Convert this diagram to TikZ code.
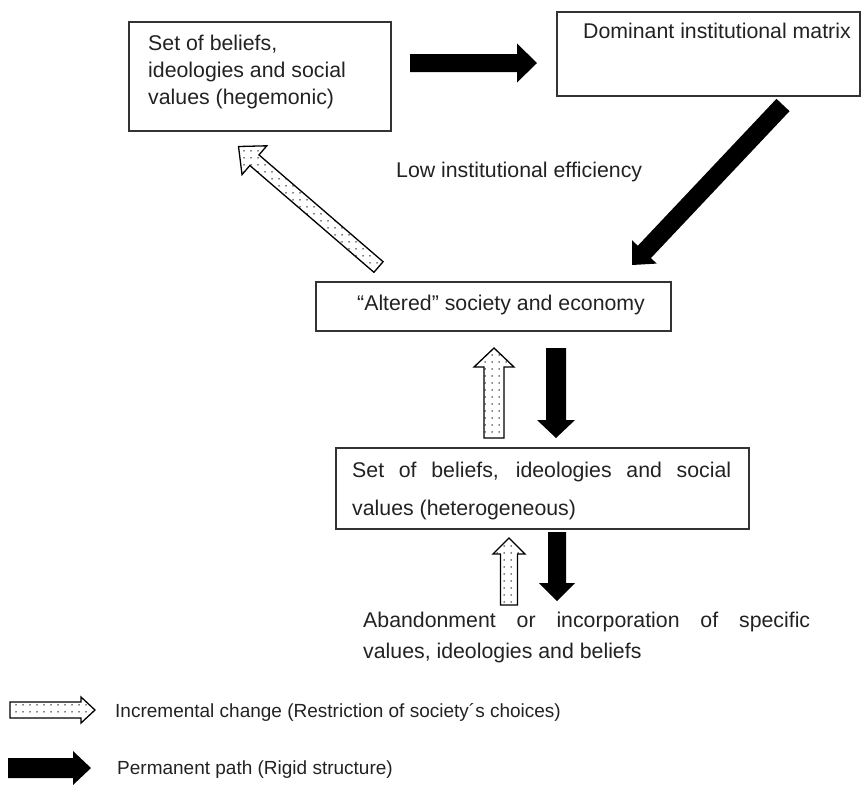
\documentclass[tikz,border=0pt]{standalone}
\usepackage{fontspec}
\setmainfont{Liberation Sans}
\usetikzlibrary{calc,patterns.meta}
\definecolor{ink}{HTML}{222222}
\definecolor{edge}{HTML}{333333}
\tikzdeclarepattern{
  name=sdots,
  type=uncolored,
  bounding box={(0pt,0pt) and (6.5pt,6.5pt)},
  tile size={(6.5pt,6.5pt)},
  code={\fill (3.25pt,3.25pt) circle (0.8pt);}
}
\newcommand\blockarrow[6]{%
  \coordinate (#2-b) at ($(#3)!#6!(#2)$);
  \path[#1] ($(#2)!#4!90:(#3)$) -- ($(#2-b)!#4!90:(#3)$) -- ($(#2-b)!#5!90:(#3)$) -- (#3)
    -- ($(#2-b)!#5!-90:(#3)$) -- ($(#2-b)!#4!-90:(#3)$) -- ($(#2)!#4!-90:(#3)$) -- cycle;
}
\tikzset{
  box/.style={draw=edge, line width=1.3pt, inner sep=0pt},
  txt/.style={text=ink, inner sep=0pt, font={\fontsize{21.3pt}{27pt}\selectfont}},
  legtxt/.style={text=ink, inner sep=0pt, font={\fontsize{19pt}{24pt}\selectfont}},
  solidarrow/.style={fill=black},
  dotarrow/.style={preaction={fill=white}, pattern=sdots, pattern color=black, draw=black, line width=1.3pt, line join=miter}
}
\begin{document}
\begin{tikzpicture}[x=1pt,y=-1pt]
\useasboundingbox (0,0) rectangle (861,793);
% boxes
\node[box, minimum width=262pt, minimum height=109pt] (hege) at (260,76.5) {};
\node[txt, anchor=west, align=left] (hegeT) at (148,71.5) {Set of beliefs,\\ideologies and social\\values (hegemonic)};
\node[box, minimum width=303pt, minimum height=84pt] (dom) at (708.5,54) {};
\node[txt, anchor=west] (domT) at (583,31) {Dominant institutional matrix};
\node[txt, anchor=west] (lowT) at (396,172) {Low institutional efficiency};
\node[box, minimum width=355pt, minimum height=49pt] (alt) at (493.5,306.5) {};
\node[txt, anchor=west] (altT) at (357,305) {“Altered” society and economy};
\node[box, minimum width=413pt, minimum height=81pt] (het) at (542.5,488.5) {};
\node[txt, anchor=west, text width=379pt, align=justify, font={\fontsize{21.3pt}{38pt}\selectfont}] (hetT) at (352,491) {Set of beliefs, ideologies and social\linebreak values (heterogeneous)};
\node[txt, anchor=west, text width=447pt, align=justify, font={\fontsize{21.3pt}{31pt}\selectfont}] (abT) at (363,637) {Abandonment or incorporation of specific\linebreak values, ideologies and beliefs};
% legend texts
\node[legtxt, anchor=west] (leg1T) at (115,712) {Incremental change (Restriction of society´s choices)};
\node[legtxt, anchor=west] (leg2T) at (117,770) {Permanent path (Rigid structure)};
% arrow end points
\coordinate (rA) at (410,63);   \coordinate (rB) at (537,63);
\coordinate (dA) at (783,105);  \coordinate (dB) at (632,265);
\coordinate (gA) at (378.5,267); \coordinate (gB) at (238.5,146.5);
\coordinate (u1A) at (494,438); \coordinate (u1B) at (494,348);
\coordinate (d1A) at (556,348); \coordinate (d1B) at (556,438);
\coordinate (u2A) at (509,605); \coordinate (u2B) at (509,538);
\coordinate (d2A) at (557,532); \coordinate (d2B) at (557,601);
\coordinate (l1A) at (10,710);  \coordinate (l1B) at (95,710);
\coordinate (l2A) at (8,768);   \coordinate (l2B) at (91,768);
% arrows
\blockarrow{solidarrow}{rA}{rB}{9pt}{19.5pt}{20pt}
\blockarrow{solidarrow}{dA}{dB}{9pt}{17pt}{18pt}
\blockarrow{dotarrow}{gA}{gB}{7pt}{19pt}{21pt}
\blockarrow{dotarrow}{u1A}{u1B}{10pt}{20pt}{19pt}
\blockarrow{solidarrow}{d1A}{d1B}{10pt}{19pt}{18pt}
\blockarrow{dotarrow}{u2A}{u2B}{8.5pt}{16pt}{16pt}
\blockarrow{solidarrow}{d2A}{d2B}{9pt}{18pt}{18pt}
\blockarrow{dotarrow}{l1A}{l1B}{8pt}{13pt}{14pt}
\blockarrow{solidarrow}{l2A}{l2B}{10pt}{17pt}{18pt}
\end{tikzpicture}
\end{document}
